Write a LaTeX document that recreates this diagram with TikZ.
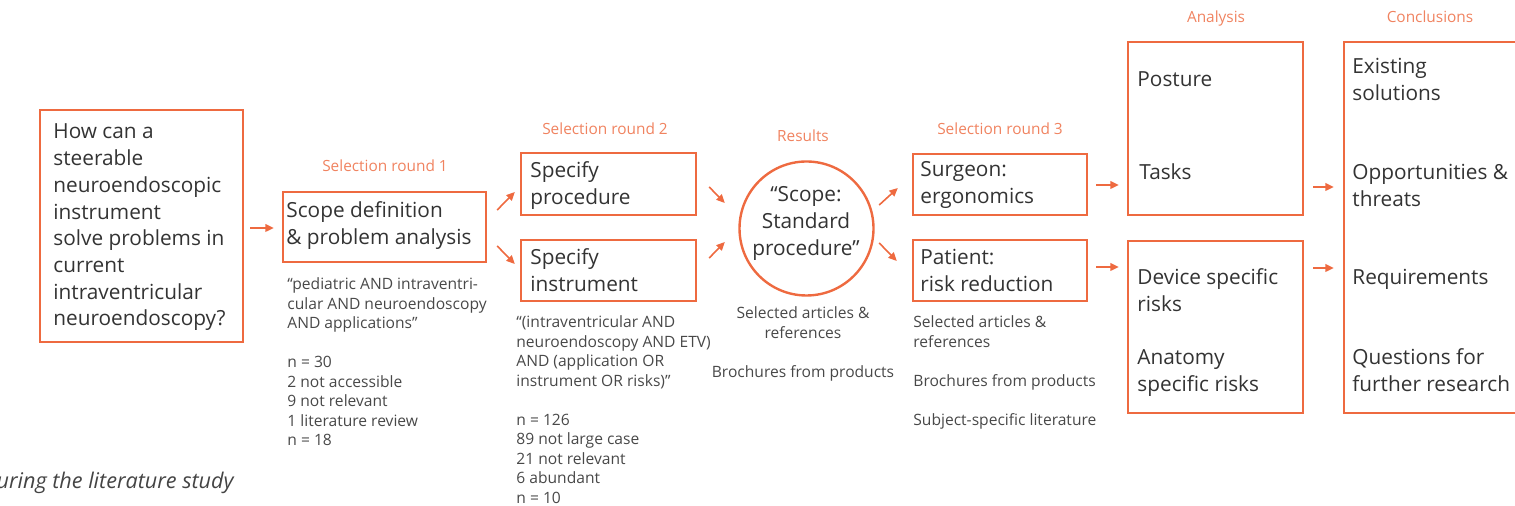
\documentclass[tikz,border=0pt]{standalone}
\usepackage{fontspec}
\setmainfont{Open Sans}
\usetikzlibrary{arrows.meta}
\definecolor{ora}{HTML}{EE6A40}
\definecolor{orh}{HTML}{F08360}
\definecolor{txt}{HTML}{333333}
\definecolor{sml}{HTML}{484848}
\definecolor{cap}{HTML}{444444}
\newcommand{\mylines}[1]{\begin{tabular}[t]{@{}l@{}}#1\end{tabular}}
\newcommand{\mycent}[1]{\begin{tabular}[t]{@{}c@{}}#1\end{tabular}}
\tikzset{
  box/.style={draw=ora, line width=1.2pt, inner sep=0pt, rectangle},
  big/.style={font=\fontsize{10.4}{13.35}\selectfont, text=txt, inner sep=0pt, anchor=base west},
  bigc/.style={font=\fontsize{10.4}{13.35}\selectfont, text=txt, inner sep=0pt, anchor=base},
  small/.style={font=\fontsize{7.8}{9.75}\selectfont, text=sml, inner sep=0pt, anchor=base west},
  smallc/.style={font=\fontsize{7.8}{9.75}\selectfont, text=sml, inner sep=0pt, anchor=base},
  head/.style={font=\fontsize{7.7}{9.5}\selectfont, text=orh, inner sep=0pt, anchor=base},
  arr/.style={draw=ora, line width=0.8pt, -{Triangle[length=4.2pt,width=3.8pt]}}
}
\begin{document}
\begin{tikzpicture}[x=0.5pt,y=-0.5pt]
\useasboundingbox (0,0) rectangle (1515,506);
\clip (0,0) rectangle (1515,506);

% boxes
\node[box, minimum width=101.5pt, minimum height=116pt] (q) at (141.5,226) {};
\node[box, minimum width=101.5pt, minimum height=35pt] (s1) at (384.5,227) {};
\node[box, minimum width=87.5pt, minimum height=31pt] (sp) at (608.5,184) {};
\node[box, minimum width=87.5pt, minimum height=30.5pt] (si) at (608.5,270.5) {};
\node[circle, draw=ora, line width=1.2pt, inner sep=0pt, minimum size=67pt] (res) at (806.5,228.5) {};
\node[box, minimum width=87pt, minimum height=30.5pt] (su) at (1000,184.5) {};
\node[box, minimum width=87pt, minimum height=30.5pt] (pa) at (1000,270.5) {};
\node[box, minimum width=87.5pt, minimum height=86.5pt] (a1) at (1215.5,128.5) {};
\node[box, minimum width=87.5pt, minimum height=86pt] (a2) at (1215.5,327) {};
\node[box, minimum width=93pt, minimum height=185.5pt] (c) at (1437,227.5) {};

% headers
\node[head] (h1) at (385,172) {Selection round 1};
\node[head] (h2) at (605,135) {Selection round 2};
\node[head] (h3) at (803,142) {Results};
\node[head] (h4) at (1000,135) {Selection round 3};
\node[head] (h5) at (1216,23) {Analysis};
\node[head] (h6) at (1430,23) {Conclusions};

% box texts
\node[big] (qt) at (53,139) {\mylines{How can a\\steerable\\neuroendoscopic\\instrument\\solve problems in\\current\\intraventricular\\neuroendoscopy?}};
\node[big] (s1t) at (286,218) {\mylines{Scope definition\\\& problem analysis}};
\node[big] (spt) at (530,178) {\mylines{Specify\\procedure}};
\node[big] (sit) at (530,265) {\mylines{Specify\\instrument}};
\node[bigc] (rest) at (806,202) {\mycent{“Scope:\\Standard\\procedure”}};
\node[big] (sut) at (920,177) {\mylines{Surgeon:\\ergonomics}};
\node[big] (pat) at (920,265) {\mylines{Patient:\\risk reduction}};
\node[big] (a1t1) at (1137,87) {Posture};
\node[big] (a1t2) at (1139,180) {Tasks};
\node[big] (a2t1) at (1137,285) {\mylines{Device specific\\risks}};
\node[big] (a2t2) at (1137,365) {\mylines{Anatomy\\specific risks}};
\node[big] (ct1) at (1352,74) {\mylines{Existing\\solutions}};
\node[big] (ct2) at (1352,180) {\mylines{Opportunities \&\\threats}};
\node[big] (ct3) at (1352,285) {Requirements};
\node[big] (ct4) at (1352,365) {\mylines{Questions for\\further research}};

% small texts
\node[small] (s1s) at (287,290) {\mylines{“pediatric AND intraventri-\\cular AND neuroendoscopy\\AND applications”\\ \\n = 30\\2 not accessible\\9 not relevant\\1 literature review\\n = 18}};
\node[small] (sis) at (516,328) {\mylines{“(intraventricular AND\\neuroendoscopy AND ETV)\\AND (application OR\\instrument OR risks)”\\ \\n = 126\\89 not large case\\21 not relevant\\6 abundant\\n = 10}};
\node[smallc] (ress) at (803,319) {\mycent{Selected articles \&\\references\\ \\Brochures from products}};
\node[small] (pas) at (913,328) {\mylines{Selected articles \&\\references\\ \\Brochures from products\\ \\Subject-specific literature}};

% caption
\node[font=\fontsize{10.8}{12}\selectfont\itshape, text=cap, inner sep=0pt, anchor=base east] (capt) at (234,489) {uring the literature study};

% arrows
\draw[arr] ([shift={(6,2)}]q.east) -- ([shift={(-8,1)}]s1.west);
\draw[arr] ([shift={(10,-17)}]s1.east) -- ([shift={(-5,8)}]sp.west);
\draw[arr] ([shift={(10,19)}]s1.east) -- ([shift={(-5,-6.5)}]si.west);
\draw[arr] ([shift={(12,3)}]sp.east) -- ([shift={(-13.5,-25.5)}]res.west);
\draw[arr] ([shift={(12,-12.5)}]si.east) -- ([shift={(-13.5,13.5)}]res.west);
\draw[arr] ([shift={(4.5,-23.5)}]res.east) -- ([shift={(-14,3.5)}]su.west);
\draw[arr] ([shift={(4.5,14.5)}]res.east) -- ([shift={(-15,-9.5)}]pa.west);
\draw[arr] ([shift={(8,0.5)}]su.east) -- ([shift={(-8,56.5)}]a1.west);
\draw[arr] ([shift={(8,-3.5)}]pa.east) -- ([shift={(-8,-60)}]a2.west);
\draw[arr] ([shift={(9,58.5)}]a1.east) -- ([shift={(-9,-40.5)}]c.west);
\draw[arr] ([shift={(9,-59)}]a2.east) -- ([shift={(-9,40.5)}]c.west);
\end{tikzpicture}
\end{document}
